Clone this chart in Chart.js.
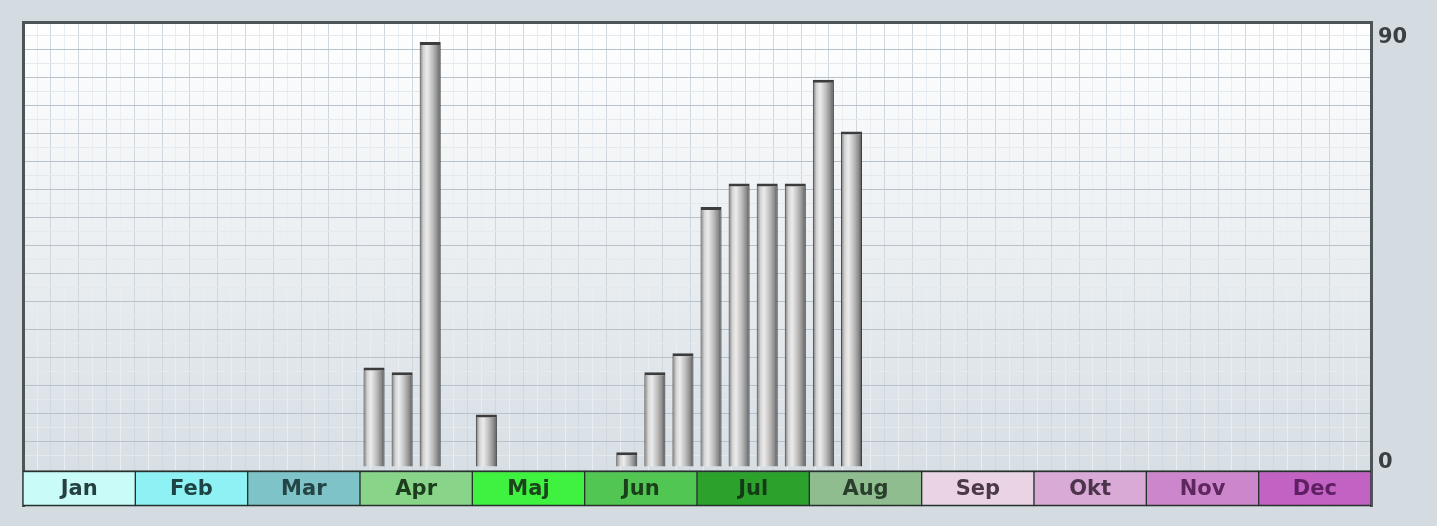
<!DOCTYPE html>
<html>
<head>
<meta charset="utf-8">
<script src="https://cdn.jsdelivr.net/npm/chart.js@4/dist/chart.umd.min.js"></script>
<style>
  html, body { margin: 0; padding: 0; background: #d4dce2; }
  #wrap { width: 1437px; height: 526px; }
</style>
</head>
<body>
<div id="wrap"><canvas id="myChart" width="1437" height="526"></canvas></div>
<script>
// months shown in the coloured band, 4 slots per month
const months = ["Jan", "Feb", "Mar", "Apr", "Maj", "Jun", "Jul", "Aug", "Sep", "Okt", "Nov", "Dec"];
const monthColors = ["#c9fcf9", "#8ef1f3", "#7dc3c7", "#88d58a", "#3ff23f", "#52c652", "#2ba22b", "#8fbd90", "#ebd3e6", "#daaad7", "#cc87cc", "#c262c2"];
const monthTextColors = ["#24403f", "#1d4344", "#254446", "#1d3d1f", "#1c451c", "#1b3f1b", "#153a15", "#2a3f2b", "#4a3a48", "#4d344d", "#5e285e", "#5f1f63"];
const slots = months.flatMap((m) => [m + " 1", m + " 2", m + " 3", m + " 4"]);
const values = [
    0, 0, 0, 0,      // Jan
    0, 0, 0, 0,      // Feb
    0, 0, 0, 0,      // Mar
    21, 20, 90, 0,   // Apr
    11, 0, 0, 0,     // Maj
    0, 3, 20, 24,    // Jun
    55, 60, 60, 60,  // Jul
    82, 71, 0, 0,    // Aug
    0, 0, 0, 0,      // Sep
    0, 0, 0, 0,      // Okt
    0, 0, 0, 0,      // Nov
    0, 0, 0, 0,      // Dec
];
const yTicks = [0, 90];

// scale range so that 0 sits just above the month band
const Y_MIN = -8.47;
const Y_MAX = 94.24;
const BAND_TOP = -0.85;

const bgPlugin = {
    id: "bg",
    beforeDraw(chart) {
        const { ctx, chartArea: a } = chart;
        ctx.save();
        ctx.fillStyle = "#d4dce2";
        ctx.fillRect(0, 0, chart.width, chart.height);
        if (a && isFinite(a.top) && isFinite(a.bottom)) {
            const g = ctx.createLinearGradient(0, a.top, 0, a.bottom - 36);
            g.addColorStop(0, "#ffffff");
            g.addColorStop(1, "#d7dfe5");
            ctx.fillStyle = g;
            ctx.fillRect(a.left, a.top, a.right - a.left, a.bottom - a.top);
        }
        ctx.restore();
    },
};

function barGradient(c) {
    const chart = c.chart;
    const xs = chart.scales.x;
    if (!xs || c.type !== "data") return "#b0b0b0";
    const cx = xs.getPixelForValue(c.dataIndex);
    if (!isFinite(cx)) return "#b0b0b0";
    const w = 21;
    const g = chart.ctx.createLinearGradient(cx - w / 2, 0, cx + w / 2, 0);
    g.addColorStop(0, "#7a7a7a");
    g.addColorStop(0.18, "#d4d4d4");
    g.addColorStop(0.35, "#ececec");
    g.addColorStop(0.62, "#bdbdbd");
    g.addColorStop(0.85, "#8a8a8a");
    g.addColorStop(1, "#4e4e4e");
    return g;
}

const gridColor = (major, minor) => (c) =>
    c.tick && Number.isInteger(c.tick.value) ? major : minor;

const data = {
    labels: slots,
    datasets: [
        {
            label: "values",
            data: values,
            xAxisID: "x",
            yAxisID: "y",
            grouped: false,
            backgroundColor: barGradient,
            borderColor: "#3c3c3c",
            borderWidth: (c) => (c.raw ? { top: 3, left: 1, right: 1, bottom: 0 } : 0),
            borderSkipped: false,
            barPercentage: 0.75,
            categoryPercentage: 1,
            order: 1,
        },
        {
            label: "months",
            data: months.map((m) => ({ x: m, y: [Y_MIN, BAND_TOP] })),
            xAxisID: "x2",
            yAxisID: "y",
            grouped: false,
            backgroundColor: monthColors,
            borderColor: "#27322f",
            borderWidth: { top: 2, bottom: 2, left: 1, right: 1 },
            borderSkipped: false,
            barPercentage: 1,
            categoryPercentage: 1,
            order: 0,
        },
    ],
};

const config = {
    type: "bar",
    data: data,
    plugins: [bgPlugin],
    options: {
        responsive: false,
        animation: false,
        layout: { padding: { left: 23, top: 22, right: 0, bottom: 19 } },
        plugins: { legend: { display: false }, tooltip: { enabled: false } },
        scales: {
            x: {
                type: "category",
                display: false,
                offset: true,
            },
            x2: {
                type: "category",
                labels: months,
                position: "bottom",
                offset: true,
                grid: { display: false, drawTicks: false },
                border: { display: false },
                ticks: {
                    z: 1,
                    mirror: true,
                    padding: 4,
                    autoSkip: false,
                    maxRotation: 0,
                    color: (c) => monthTextColors[c.index],
                    font: { family: "DejaVu Sans", size: 21, weight: "bold" },
                },
                afterFit(s) { s.height = 0; },
            },
            xg: {
                type: "linear",
                position: "top",
                min: 0,
                max: 48,
                afterBuildTicks(s) {
                    const t = [];
                    for (let v = 0.5; v < 48; v += 0.5) t.push({ value: v });
                    s.ticks = t;
                },
                grid: { color: gridColor("#d0d8df", "#eaeef2"), lineWidth: 1, drawTicks: false },
                border: { display: true, color: "#4d5559", width: 3 },
                ticks: { display: false },
                afterFit(s) { s.height = 0; },
            },
            y: {
                type: "linear",
                position: "right",
                min: Y_MIN,
                max: Y_MAX,
                afterBuildTicks(s) { s.ticks = yTicks.map((v) => ({ value: v })); },
                grid: { display: false, drawTicks: false },
                border: { display: true, color: "#4d5559", width: 3 },
                ticks: {
                    padding: 7,
                    labelOffset: -4,
                    color: "#3a3f44",
                    font: { family: "DejaVu Sans", size: 21, weight: "bold" },
                },
                afterFit(s) { s.width = 66; },
            },
            yg: {
                type: "linear",
                position: "left",
                min: -1.302,
                max: 16,
                afterBuildTicks(s) {
                    const t = [];
                    for (let v = 0.5; v < 16; v += 0.5) t.push({ value: v });
                    s.ticks = t;
                },
                grid: { color: gridColor("#b9c2ca", "#e4e9ee"), lineWidth: 1, drawTicks: false },
                border: { display: true, color: "#4d5559", width: 3 },
                ticks: { display: false },
                afterFit(s) { s.width = 0; },
            },
        },
    },
};

new Chart(document.getElementById("myChart"), config);
</script>
</body>
</html>
